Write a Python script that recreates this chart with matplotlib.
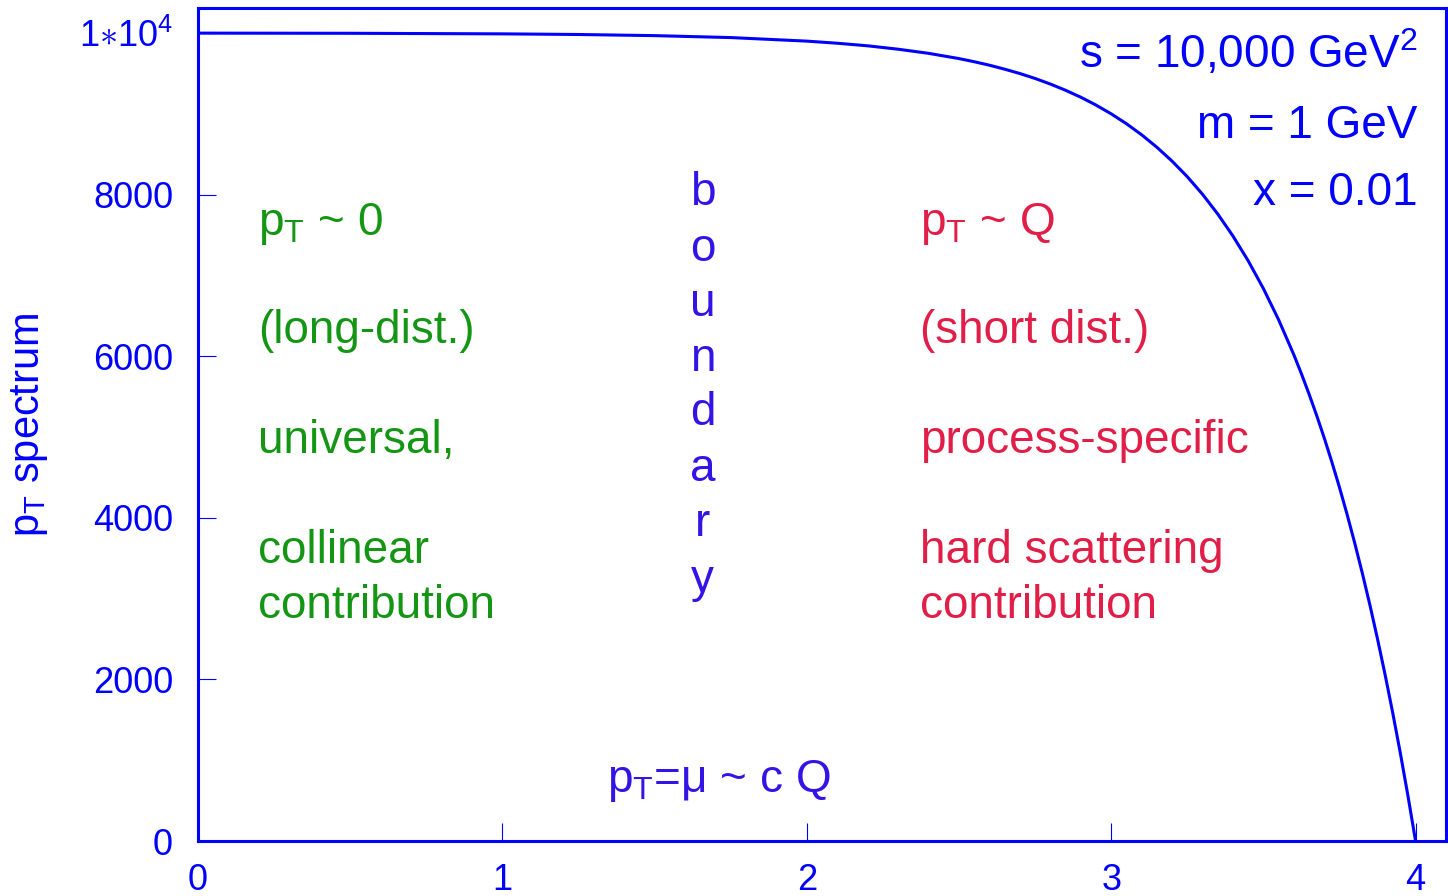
import matplotlib
matplotlib.use("Agg")
import matplotlib.pyplot as plt

plt.rcParams['font.family'] = ['Liberation Sans', 'DejaVu Sans']
plt.rcParams['mathtext.fontset'] = 'custom'
plt.rcParams['mathtext.rm'] = 'Liberation Sans'
plt.rcParams['mathtext.it'] = 'Liberation Sans:italic'

# ---- data ----
x_vals = [0.0, 0.5, 1.0, 1.25, 1.5, 1.75, 2.0, 2.1, 2.2, 2.3, 2.4,
          2.5, 2.55, 2.6, 2.65, 2.7, 2.75, 2.8, 2.85, 2.9, 2.95,
          3.0, 3.05, 3.1, 3.15, 3.2, 3.25, 3.3, 3.35, 3.4, 3.45,
          3.5, 3.55, 3.6, 3.625, 3.65, 3.675, 3.7, 3.725, 3.75, 3.775,
          3.8, 3.825, 3.85, 3.875, 3.9, 3.925, 3.95, 3.975, 4.0]
y_vals = [9999, 9997, 9990, 9982, 9968, 9944, 9900, 9874, 9842, 9800, 9749,
          9684, 9645, 9602, 9553, 9499, 9438, 9369, 9292, 9206, 9109,
          9000, 8878, 8741, 8587, 8415, 8222, 8005, 7761, 7488, 7182,
          6838, 6452, 6019, 5783, 5533, 5268, 4988, 4691, 4377, 4043,
          3690, 3316, 2921, 2501, 2057, 1586, 1087, 559, 0]
x_ticks = [0, 1, 2, 3, 4]
x_tick_labels = ['0', '1', '2', '3', '4']
y_ticks = [0, 2000, 4000, 6000, 8000, 10000]
y_tick_labels = ['0', '2000', '4000', '6000', '8000', r'$1{\ast}10^{4}$']

left_lines = [r'$\mathrm{p_T}$ ~ 0', '(long-dist.)', 'universal,', 'collinear', 'contribution']
left_y = [7500, 6163, 4802, 3441, 2760]
right_lines = [r'$\mathrm{p_T}$ ~ Q', '(short dist.)', 'process-specific', 'hard scattering', 'contribution']
right_y = [7500, 6163, 4802, 3441, 2760]
param_lines = [r's = 10,000 GeV$^2$', 'm = 1 GeV', 'x = 0.01']
param_y = [9567, 8700, 7870]
boundary_letters = list('boundary')
boundary_y = [7870, 7177, 6496, 5816, 5148, 4455, 3775, 3082]

BLUE = '#0000ff'
GREEN = '#149614'
RED = '#e11e48'
PURPLE = '#3314e6'

fig = plt.figure(figsize=(14.48, 8.96), dpi=100)
ax = fig.add_axes([198/1448, 1-841/896, (1446-198)/1448, (841-8)/896])
ax.plot(x_vals, y_vals, color=BLUE, lw=2.2, solid_joinstyle='round')

ax.set_xlim(0, 4.1)
ax.set_ylim(0, 10310)
ax.set_xticks(x_ticks)
ax.set_xticklabels(x_tick_labels)
ax.set_yticks(y_ticks)
ax.set_yticklabels(y_tick_labels)
ax.tick_params(direction='in', length=13, width=0.8, colors=BLUE,
               labelsize=26, labelcolor=BLUE)
ax.tick_params(axis='x', pad=16)
ax.tick_params(axis='y', pad=18)
for s in ax.spines.values():
    s.set_color(BLUE)
    s.set_linewidth(2.2)

fs = 33
for t, y in zip(left_lines, left_y):
    ax.text(0.197, y, t, color=GREEN, fontsize=fs, ha='left', va='baseline')
for t, y in zip(right_lines, right_y):
    ax.text(2.371, y, t, color=RED, fontsize=fs, ha='left', va='baseline')
for t, y in zip(param_lines, param_y):
    ax.text(4.006, y, t, color=BLUE, fontsize=fs, ha='right', va='baseline')
for t, y in zip(boundary_letters, boundary_y):
    ax.text(1.658, y, t, color=PURPLE, fontsize=fs, ha='center', va='baseline')
ax.text(1.343, 606, r'$\mathrm{p_T}$=μ ~ c Q', color=PURPLE, fontsize=fs,
        ha='left', va='baseline')

fig.text(30/1448, 1-425/896, r'$\mathrm{p_T}$ spectrum', color=BLUE, fontsize=30,
         rotation=90, ha='center', va='center')

fig.savefig('out.png', dpi=100)
